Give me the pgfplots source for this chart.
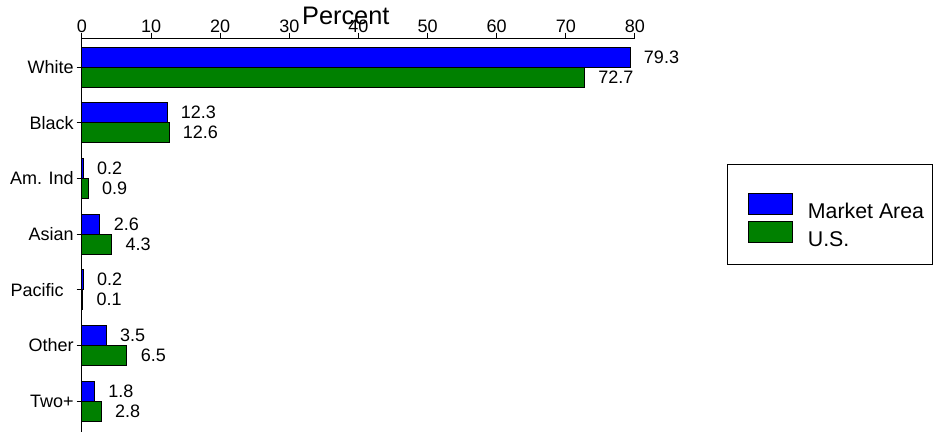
\documentclass[border=0pt]{standalone}
\usepackage{fontspec}
\setmainfont{Liberation Sans}
\usepackage{pgfplots}
\pgfplotsset{compat=1.18}
\definecolor{mablue}{RGB}{0,0,255}
\definecolor{usgreen}{RGB}{0,128,0}
\begin{document}
\begin{tikzpicture}
% 1 px of the reference = 0.75pt
\path[use as bounding box] (-61.5pt,28.5pt) rectangle (638.25pt,-295.5pt);
\begin{axis}[
  at={(0pt,0pt)}, anchor=north west,
  scale only axis, width=414.75pt, height=295.5pt,
  clip=false,
  xbar, bar width=15pt,
  xmin=0, xmax=80, ymin=-0.557, ymax=6.521,
  axis x line*=top, axis y line*=left,
  axis line style={line width=0.75pt},
  xtick={0,10,...,80},
  ytick={0,...,6},
  yticklabels={Two+,Other,Pacific\rule{7.5pt}{0pt},Asian,Am. Ind,Black,White},
  tick align=outside, major tick length=4pt,
  tick style={line width=0.75pt, black},
  /pgf/number format/assume math mode=true,
  tick label style={font=\fontsize{13.5}{16}\selectfont},
  xticklabel style={inner sep=0pt},
  yticklabel style={inner sep=2pt},
  xlabel={Percent},
  xlabel style={at={(axis description cs:0.477,1)}, anchor=base,
    yshift=9.75pt, inner sep=0pt, font=\fontsize{19}{22}\selectfont},
  nodes near coords,
  point meta=x,
  nodes near coords style={anchor=west, inner sep=0pt, xshift=10pt,
    font=\fontsize{13.5}{16}\selectfont,
    /pgf/number format/.cd, fixed, fixed zerofill, precision=1, assume math mode=true},
  legend style={at={(axis description cs:1.2043,0.6066)}, anchor=north west,
    draw=none, fill=none, inner sep=0pt,
    font=\fontsize{16}{19}\selectfont,
    nodes={inner sep=0pt}, column sep=11pt, row sep=0pt},
  legend cell align=left,
]
\addplot[fill=mablue, draw=black, line width=0.75pt, bar shift=7.5pt,
  legend image code/.code={\draw[fill=mablue, draw=black, line width=0.75pt] (0pt,-2pt) rectangle (33pt,13.75pt);}]
  coordinates {(1.8,0) (3.5,1) (0.2,2) (2.6,3) (0.2,4) (12.3,5) (79.3,6)};
\addplot[fill=usgreen, draw=black, line width=0.75pt, bar shift=-7.5pt,
  legend image code/.code={\draw[fill=usgreen, draw=black, line width=0.75pt] (0pt,-2pt) rectangle (33pt,13.75pt);}]
  coordinates {(2.8,0) (6.5,1) (0.1,2) (4.3,3) (0.9,4) (12.6,5) (72.7,6)};
\legend{Market Area, U.S.}
% legend frame
\draw[line width=0.75pt] (axis description cs:1.1664,0.6777) rectangle (axis description cs:1.5371,0.4239);
\end{axis}
\end{tikzpicture}
\end{document}
